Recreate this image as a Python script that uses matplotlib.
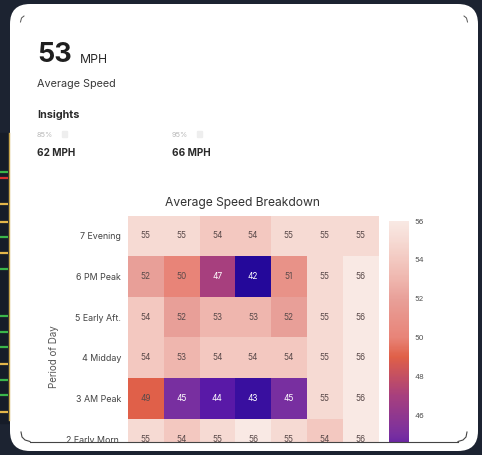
import numpy as np
import matplotlib
matplotlib.use("Agg")
import matplotlib.pyplot as plt
from matplotlib.patches import FancyBboxPatch, Rectangle
from matplotlib.colors import LinearSegmentedColormap

plt.rcParams['font.family'] = ['Inter', 'DejaVu Sans']

# data
periods = ["7 Evening", "6 PM Peak", "5 Early Aft.", "4 Midday", "3 AM Peak", "2 Early Morn."]
speeds = [
    [55, 55, 54, 54, 55, 55, 55],
    [52, 50, 47, 42, 51, 55, 56],
    [54, 52, 53, 53, 52, 55, 56],
    [54, 53, 54, 54, 54, 55, 56],
    [49, 45, 44, 43, 45, 55, 56],
    [55, 54, 55, 56, 55, 54, 56],
]
avg_speed = 53
p85 = 62
p95 = 66
cbar_ticks = [46, 48, 50, 52, 54, 56]

W, H = 482, 455
fig = plt.figure(figsize=(W / 100, H / 100), dpi=100)
fig.patch.set_facecolor("#1c2331")


def box(x0, y0, x1, y1):
    # pixel box (top-left origin) -> figure fraction rect
    return [x0 / W, 1 - y1 / H, (x1 - x0) / W, (y1 - y0) / H]


# background layer: dark page + white card
bg = fig.add_axes([0, 0, 1, 1], zorder=0)
bg.set_xlim(0, W)
bg.set_ylim(H, 0)
bg.axis("off")
bg.add_patch(Rectangle((0, 133), 9, 290, color="#161c28"))
bg.plot([8.5, 8.5], [133, 420], color="#c9a64a", lw=1)
line_rows = [(172, "#3bb54a"), (178, "#d93030"), (204, "#e3b54a"), (222, "#e3b54a"),
             (237, "#3bb54a"), (253, "#e3b54a"), (269, "#3bb54a"), (316, "#3bb54a"),
             (332, "#3bb54a"), (347, "#3bb54a"), (364, "#e3b54a"), (380, "#3bb54a"),
             (395, "#3bb54a"), (412, "#e3b54a")]
for yy, cc in line_rows:
    bg.plot([0, 8], [yy, yy], color=cc, lw=1.6, solid_capstyle="butt")
bg.add_patch(FancyBboxPatch((10, 4), 468, 447, boxstyle="round,pad=0,rounding_size=20",
                            facecolor="white", edgecolor="none"))

# header texts
bg.text(37, 62, str(avg_speed), fontsize=19.5, fontweight="bold", color="#1f1f1f", va="baseline")
bg.text(80, 63, "MPH", fontsize=8.8, color="#2a2a2a", va="baseline")
bg.text(37, 87, "Average Speed", fontsize=7.8, color="#3a3a3a", va="baseline")
bg.text(37, 118, "Insights", fontsize=7.8, fontweight="bold", color="#2a2a2a", va="baseline")
bg.text(37, 137, "85%", fontsize=5.3, color="#b8b8b8", va="baseline")
bg.add_patch(Rectangle((62, 131), 5, 6, color="#eeeeee"))
bg.text(37, 156, f"{p85} MPH", fontsize=7.2, fontweight="bold", color="#2a2a2a", va="baseline")
bg.text(172, 137, "95%", fontsize=5.3, color="#b8b8b8", va="baseline")
bg.add_patch(Rectangle((197, 131), 5, 6, color="#eeeeee"))
bg.text(172, 156, f"{p95} MPH", fontsize=7.2, fontweight="bold", color="#2a2a2a", va="baseline")
bg.text(242, 203, "Average Speed Breakdown", fontsize=8.7, color="#333333", ha="center", va="center")
bg.text(54, 357, "Period of Day", fontsize=7, color="#555555", rotation=90, ha="center", va="center")

# heatmap
cmap = LinearSegmentedColormap.from_list("spd", [
    (0.0, "#24089a"), (1 / 14, "#3a10a0"), (2 / 14, "#5a1aa8"), (3 / 14, "#7a30a0"),
    (5 / 14, "#a8407e"), (7 / 14, "#e06048"), (8 / 14, "#e88478"), (10 / 14, "#e9a099"),
    (11 / 14, "#efb6ae"), (12 / 14, "#f3c8c0"), (13 / 14, "#f6dad3"), (1.0, "#f9e9e4")])
vmin, vmax = 42, 56
data = np.array(speeds)
row_h = 40.7
ax = fig.add_axes(box(128, 215.5, 378, 215.5 + row_h * len(periods)), zorder=1)
ax.imshow(data, cmap=cmap, vmin=vmin, vmax=vmax, aspect="auto", interpolation="nearest")
for i in range(data.shape[0]):
    for j in range(data.shape[1]):
        v = data[i, j]
        ax.text(j, i, str(v), ha="center", va="center", fontsize=6,
                color="white" if v <= 47 else "#5a4a4a")
ax.set_xticks([])
ax.set_yticks(range(len(periods)))
ax.set_yticklabels(periods, fontsize=6.4, color="#444444")
ax.tick_params(axis="y", length=0, pad=5)
for s in ax.spines.values():
    s.set_visible(False)

# colorbar
cax = fig.add_axes(box(389, 221, 409, 221 + 19.4 * (vmax - vmin)), zorder=1)
grad = np.linspace(vmax, vmin, 300).reshape(-1, 1)
cax.imshow(grad, cmap=cmap, vmin=vmin, vmax=vmax, aspect="auto",
           extent=[0, 1, vmin, vmax])
cax.set_xticks([])
cax.yaxis.tick_right()
cax.set_yticks(cbar_ticks)
cax.set_yticklabels([str(t) for t in cbar_ticks], fontsize=5.5, color="#555555")
cax.tick_params(axis="y", length=0, pad=4)
for s in cax.spines.values():
    s.set_visible(False)

# overlay: bottom of card hides the rest of the breakdown
ov = fig.add_axes([0, 0, 1, 1], zorder=5)
ov.set_xlim(0, W)
ov.set_ylim(H, 0)
ov.axis("off")
ov.patch.set_alpha(0)
ov.add_patch(Rectangle((30, 441.5), 428, 9.5, facecolor="white", edgecolor="none"))
ov.add_patch(Rectangle((30, 451), 428, 5, facecolor="#1c2331", edgecolor="none"))
ov.plot([30, 458], [441.5, 441.5], color="#444444", lw=0.8)
ov.plot([21, 22, 25, 30], [432, 437, 440, 441.5], color="#444444", lw=0.8)
ov.plot([458, 463, 466, 467], [441.5, 440, 437, 432], color="#444444", lw=0.8)
ov.plot([20.5, 21.5, 24], [22, 18, 16], color="#555555", lw=0.7)
ov.plot([464, 466.5, 467.5], [16, 18, 22], color="#555555", lw=0.7)

fig.savefig("out.png", dpi=100, facecolor=fig.get_facecolor())
